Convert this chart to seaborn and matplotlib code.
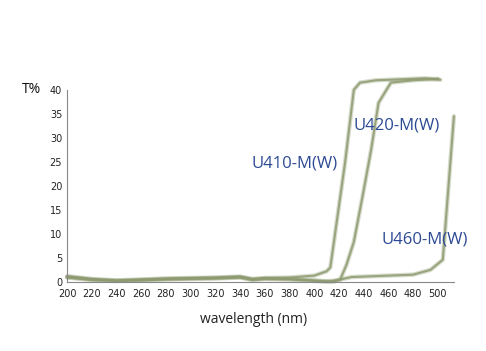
import numpy as np
import pandas as pd
import matplotlib.pyplot as plt
import seaborn as sns
from matplotlib.ticker import MultipleLocator

# curves (wavelength nm, T%)
wl_410 = [200, 220, 240, 260, 280, 300, 320, 340, 350, 360, 380, 400, 410, 413, 425, 432, 437, 450, 470, 490, 502]
t_410 = [1.2, 0.6, 0.3, 0.5, 0.7, 0.8, 0.9, 1.1, 0.6, 0.8, 0.9, 1.3, 2.2, 3.0, 25, 40, 41.5, 42.0, 42.2, 42.4, 42.1]

wl_420 = [200, 220, 240, 260, 280, 300, 320, 340, 350, 360, 380, 400, 410, 415, 421, 426, 432, 439, 446, 452, 462, 480, 500]
t_420 = [1.0, 0.5, 0.2, 0.4, 0.6, 0.7, 0.8, 1.0, 0.5, 0.7, 0.6, 0.3, 0.1, 0.0, 0.5, 3.5, 8.3, 17.7, 27.5, 37.3, 41.5, 42.0, 42.3]

wl_460 = [200, 220, 240, 260, 280, 300, 320, 340, 350, 360, 380, 400, 410, 418, 430, 460, 480, 494, 504, 513]
t_460 = [0.9, 0.4, 0.2, 0.3, 0.5, 0.6, 0.7, 0.9, 0.4, 0.6, 0.5, 0.2, 0.1, 0.3, 1.0, 1.3, 1.5, 2.5, 4.6, 34.5]

labels = ["U410-M(W)", "U420-M(W)", "U460-M(W)"]
label_pos = [(349, 24.6), (432, 32.5), (454, 8.8)]

df = pd.concat([
    pd.DataFrame({"wl": wl_410, "T": t_410, "filtro": labels[0]}),
    pd.DataFrame({"wl": wl_420, "T": t_420, "filtro": labels[1]}),
    pd.DataFrame({"wl": wl_460, "T": t_460, "filtro": labels[2]}),
])

sns.set_style("white")
plt.rcParams["font.family"] = ["Open Sans", "DejaVu Sans"]

fig = plt.figure(figsize=(4.86, 3.51), dpi=100)
ax = fig.add_axes([0.138, 0.197, 0.796, 0.547])

cor = "#8e9b70"
# traço largo e claro por baixo, mais escuro por cima (efeito de traço à mão)
for lw, a in [(3.2, 0.35), (1.5, 0.85)]:
    sns.lineplot(data=df, x="wl", y="T", units="filtro", estimator=None, sort=False,
                 color=cor, linewidth=lw, alpha=a, ax=ax, legend=False, clip_on=False)

for txt, (x, y) in zip(labels, label_pos):
    ax.text(x, y, txt, color="#2c4a94", fontsize=12, va="center", ha="left")

ax.set_xlim(200, 513)
ax.set_ylim(0, 40)
ax.xaxis.set_major_locator(MultipleLocator(20))
ax.xaxis.set_minor_locator(MultipleLocator(10))
ax.yaxis.set_major_locator(MultipleLocator(5))
ax.tick_params(axis="both", which="both", direction="in", labelsize=7, colors="#555555",
               labelcolor="#222222", length=3, width=0.6)
ax.tick_params(axis="x", pad=5)
for lbl in ax.get_xticklabels() + ax.get_yticklabels():
    lbl.set_family("DejaVu Sans")

sns.despine(ax=ax)
for s in ["left", "bottom"]:
    ax.spines[s].set_color("#888888")
    ax.spines[s].set_linewidth(0.8)

ax.set_xlabel("wavelength (nm)", fontsize=10, color="#222222")
ax.xaxis.set_label_coords(0.482, -0.155)
ax.set_ylabel("")
fig.text(0.045, 0.744, "T%", fontsize=10, color="#111111", va="center", ha="left")

fig.savefig("out.png", dpi=100)
